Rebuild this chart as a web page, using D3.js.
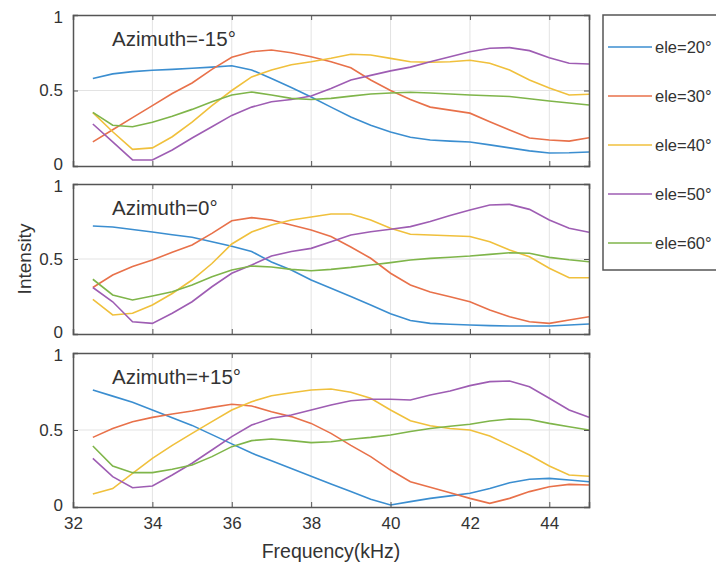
<!DOCTYPE html>
<html>
<head>
<meta charset="utf-8">
<script src="https://cdn.jsdelivr.net/npm/d3@7"></script>
<style>
  body { margin: 0; background: #fff; }
  svg text { font-family: "Liberation Sans", Arial, sans-serif; fill: #333; }
</style>
</head>
<body>
<svg width="716" height="570"></svg>
<script>
// frequencies (kHz), one sample every 0.5 kHz
const freqs = d3.range(32.5, 45.01, 0.5);

const seriesNames = ["ele=20°", "ele=30°", "ele=40°", "ele=50°", "ele=60°"];
const colors = ["#3b8ed0", "#e8714a", "#f0c03c", "#9e5db3", "#7fb54a"];
const panelTitles = ["Azimuth=-15°", "Azimuth=0°", "Azimuth=+15°"];
const yTicks = [0, 0.5, 1];
const xTicks = [32, 34, 36, 38, 40, 42, 44];

// Azimuth = -15
const p1_ele20 = [0.58, 0.61, 0.625, 0.634, 0.64, 0.647, 0.655, 0.664, 0.636, 0.58, 0.52, 0.457, 0.39, 0.325, 0.27, 0.225, 0.19, 0.172, 0.165, 0.159, 0.14, 0.12, 0.1, 0.086, 0.088, 0.093];
const p1_ele30 = [0.16, 0.24, 0.32, 0.4, 0.48, 0.55, 0.64, 0.72, 0.757, 0.768, 0.75, 0.724, 0.69, 0.65, 0.57, 0.5, 0.44, 0.39, 0.37, 0.35, 0.293, 0.238, 0.185, 0.172, 0.165, 0.187];
const p1_ele40 = [0.353, 0.227, 0.11, 0.12, 0.194, 0.29, 0.4, 0.5, 0.59, 0.636, 0.67, 0.69, 0.713, 0.74, 0.735, 0.713, 0.69, 0.687, 0.69, 0.7, 0.68, 0.636, 0.57, 0.517, 0.47, 0.475];
const p1_ele50 = [0.278, 0.16, 0.04, 0.04, 0.106, 0.185, 0.26, 0.335, 0.39, 0.426, 0.44, 0.463, 0.514, 0.57, 0.6, 0.63, 0.655, 0.69, 0.724, 0.757, 0.78, 0.784, 0.764, 0.717, 0.68, 0.675];
const p1_ele60 = [0.355, 0.27, 0.26, 0.29, 0.33, 0.375, 0.426, 0.47, 0.49, 0.47, 0.448, 0.44, 0.448, 0.463, 0.477, 0.483, 0.488, 0.483, 0.477, 0.47, 0.465, 0.46, 0.445, 0.43, 0.417, 0.404];

// Azimuth = 0
const p2_ele20 = [0.72, 0.713, 0.697, 0.68, 0.662, 0.645, 0.615, 0.585, 0.55, 0.48, 0.427, 0.36, 0.305, 0.25, 0.193, 0.135, 0.09, 0.071, 0.065, 0.06, 0.056, 0.053, 0.053, 0.053, 0.06, 0.067];
const p2_ele30 = [0.31, 0.393, 0.45, 0.493, 0.545, 0.593, 0.671, 0.755, 0.776, 0.76, 0.727, 0.693, 0.65, 0.58, 0.505, 0.405, 0.327, 0.28, 0.248, 0.215, 0.16, 0.115, 0.082, 0.071, 0.093, 0.115];
const p2_ele40 = [0.231, 0.127, 0.138, 0.193, 0.27, 0.36, 0.47, 0.6, 0.68, 0.727, 0.76, 0.78, 0.8, 0.8, 0.76, 0.705, 0.665, 0.66, 0.655, 0.65, 0.615, 0.56, 0.515, 0.438, 0.375, 0.375];
const p2_ele50 = [0.31, 0.215, 0.082, 0.071, 0.138, 0.215, 0.315, 0.405, 0.46, 0.52, 0.55, 0.571, 0.615, 0.66, 0.682, 0.698, 0.716, 0.75, 0.79, 0.827, 0.86, 0.864, 0.831, 0.76, 0.705, 0.678];
const p2_ele60 = [0.365, 0.26, 0.227, 0.253, 0.282, 0.327, 0.382, 0.427, 0.453, 0.447, 0.431, 0.422, 0.431, 0.444, 0.46, 0.476, 0.493, 0.504, 0.512, 0.52, 0.531, 0.542, 0.538, 0.511, 0.495, 0.482];

// Azimuth = +15
const p3_ele20 = [0.76, 0.72, 0.68, 0.63, 0.58, 0.53, 0.47, 0.41, 0.35, 0.3, 0.25, 0.2, 0.15, 0.1, 0.05, 0.013, 0.035, 0.056, 0.072, 0.089, 0.12, 0.158, 0.18, 0.186, 0.175, 0.164];
const p3_ele30 = [0.452, 0.51, 0.554, 0.582, 0.604, 0.623, 0.647, 0.667, 0.656, 0.619, 0.587, 0.543, 0.478, 0.4, 0.327, 0.24, 0.164, 0.128, 0.093, 0.056, 0.024, 0.056, 0.1, 0.132, 0.147, 0.143];
const p3_ele40 = [0.084, 0.12, 0.218, 0.316, 0.4, 0.478, 0.554, 0.63, 0.684, 0.723, 0.742, 0.76, 0.766, 0.745, 0.706, 0.63, 0.56, 0.528, 0.51, 0.5, 0.461, 0.4, 0.338, 0.266, 0.208, 0.2];
const p3_ele50 = [0.316, 0.197, 0.125, 0.136, 0.208, 0.284, 0.37, 0.457, 0.532, 0.576, 0.597, 0.63, 0.662, 0.69, 0.7, 0.7, 0.695, 0.727, 0.753, 0.788, 0.814, 0.818, 0.781, 0.706, 0.63, 0.582];
const p3_ele60 = [0.396, 0.266, 0.223, 0.223, 0.245, 0.273, 0.327, 0.392, 0.431, 0.442, 0.431, 0.418, 0.424, 0.44, 0.452, 0.468, 0.49, 0.51, 0.524, 0.537, 0.558, 0.571, 0.568, 0.543, 0.521, 0.5];

const panels = [
  { title: panelTitles[0], series: [p1_ele20, p1_ele30, p1_ele40, p1_ele50, p1_ele60], top: 15, bottom: 166 },
  { title: panelTitles[1], series: [p2_ele20, p2_ele30, p2_ele40, p2_ele50, p2_ele60], top: 184, bottom: 334 },
  { title: panelTitles[2], series: [p3_ele20, p3_ele30, p3_ele40, p3_ele50, p3_ele60], top: 353, bottom: 507 },
];

const svg = d3.select("svg");
const left = 73, right = 589;
const x = d3.scaleLinear().domain([32, 45]).range([left, right]);

panels.forEach((p, i) => {
  const y = d3.scaleLinear().domain([0, 1]).range([p.bottom, p.top]);
  const g = svg.append("g");

  // grid
  g.selectAll(".vgrid").data(xTicks.slice(1))
    .join("line")
    .attr("x1", d => x(d)).attr("x2", d => x(d))
    .attr("y1", p.top).attr("y2", p.bottom)
    .attr("stroke", "#e3e3e3").attr("stroke-width", 1);
  g.append("line")
    .attr("x1", left).attr("x2", right)
    .attr("y1", y(0.5)).attr("y2", y(0.5))
    .attr("stroke", "#e3e3e3").attr("stroke-width", 1);

  // lines
  const line = d3.line().x((d, j) => x(freqs[j])).y(d => y(d));
  g.selectAll(".series").data(p.series)
    .join("path")
    .attr("fill", "none")
    .attr("stroke", (d, k) => colors[k])
    .attr("stroke-width", 1.6)
    .attr("d", line);

  // axes, ticks pointing inward
  const bottomAxis = d3.axisBottom(x).tickValues(xTicks).tickSize(-5).tickPadding(10);
  if (i < 2) bottomAxis.tickFormat("");
  const gb = g.append("g").attr("transform", `translate(0,${p.bottom})`).call(bottomAxis);
  const gt = g.append("g").attr("transform", `translate(0,${p.top})`)
    .call(d3.axisTop(x).tickValues(xTicks).tickSize(-5).tickFormat(""));
  const gl = g.append("g").attr("transform", `translate(${left},0)`)
    .call(d3.axisLeft(y).tickValues(yTicks).tickSize(-5).tickPadding(10).tickFormat(d3.format("~g")));
  const gr = g.append("g").attr("transform", `translate(${right},0)`)
    .call(d3.axisRight(y).tickValues(yTicks).tickSize(-5).tickFormat(""));
  [gb, gt, gl, gr].forEach(a => {
    a.select(".domain").attr("stroke", "#555").attr("stroke-width", 1.5);
    a.selectAll(".tick line").attr("stroke", "#555");
    a.selectAll("text").attr("font-size", 17).attr("fill", "#333")
      .attr("font-family", "'Liberation Sans', Arial, sans-serif");
  });
  // nudge the 0 / 1 labels apart where panels meet
  gl.selectAll(".tick text").attr("dy", d => d === 0 ? "0.22em" : d === 1 ? "0.42em" : "0.32em");

  g.append("text")
    .attr("x", 112).attr("y", p.top + 31)
    .attr("font-size", 20.5)
    .text(p.title);
});

// axis labels
svg.append("text")
  .attr("x", (left + right) / 2).attr("y", 558)
  .attr("text-anchor", "middle").attr("font-size", 19.5)
  .text("Frequency(kHz)");
svg.append("text")
  .attr("transform", "translate(31,259) rotate(-90)")
  .attr("text-anchor", "middle").attr("font-size", 19)
  .text("Intensity");

// legend
const legend = svg.append("g");
legend.append("rect")
  .attr("x", 603).attr("y", 15).attr("width", 130).attr("height", 255)
  .attr("fill", "#fff").attr("stroke", "#555").attr("stroke-width", 1.5);
const legendY = d3.scalePoint().domain(seriesNames).range([47, 243]);
const items = legend.selectAll(".item").data(seriesNames).join("g");
items.append("line")
  .attr("x1", 608).attr("x2", 652)
  .attr("y1", d => legendY(d)).attr("y2", d => legendY(d))
  .attr("stroke", (d, k) => colors[k]).attr("stroke-width", 1.6);
items.append("text")
  .attr("x", 655).attr("y", d => legendY(d) + 6)
  .attr("font-size", 16.5)
  .text(d => d);
</script>
</body>
</html>
